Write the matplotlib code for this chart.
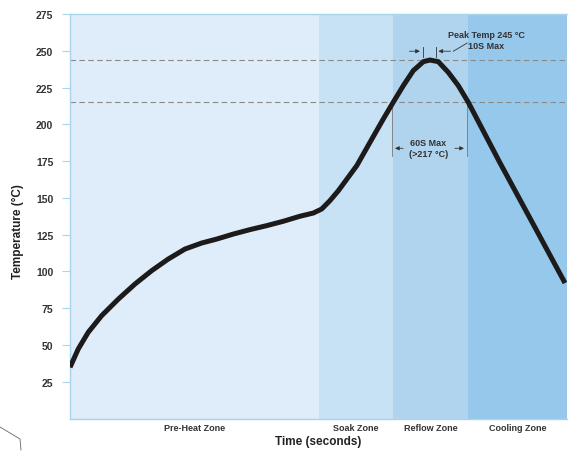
import matplotlib.pyplot as plt
from matplotlib.lines import Line2D

plt.rcParams['font.family'] = ['Liberation Sans', 'DejaVu Sans']

# reflow profile (time in s, temperature in degC)
time_s = [0.0, 5.0, 11.0, 19.1, 29.2, 39.2, 49.3, 59.3, 69.4, 79.5, 88.6, 98.6,
          108.6, 118.7, 128.8, 138.8, 146.9, 151.9, 156.9, 162.0, 173.1, 181.1,
          189.1, 195.1, 201.2, 207.2, 213.3, 217.3, 222.3, 228.3, 234.4, 240.4,
          259.4, 281.3, 298.8]
temp_c = [34.8, 47.3, 58.6, 69.9, 81.2, 91.4, 100.5, 108.4, 115.2, 119.3, 122.0, 125.4,
          128.4, 131.1, 134.1, 137.5, 139.7, 142.4, 148.1, 154.9, 171.9, 187.8,
          203.6, 215.0, 226.3, 236.5, 242.6, 243.7, 242.6, 235.4, 226.3, 215.0,
          174.1, 128.6, 92.1]

zone_names = ['Pre-Heat Zone', 'Soak Zone', 'Reflow Zone', 'Cooling Zone']
zone_edges = [0, 150, 195, 240, 300]
zone_colors = ['#deedf9', '#c8e2f5', '#b0d4ee', '#96c8ec']

peak_line = 243.5
liquidus_line = 215.5
yticks = [25, 50, 75, 100, 125, 150, 175, 200, 225, 250, 275]

fig = plt.figure(figsize=(5.74, 4.52), dpi=100)
ax = fig.add_axes([70 / 574, 1 - 419.5 / 452, 497 / 574, 404.5 / 452])

for i in range(len(zone_names)):
    ax.axvspan(zone_edges[i], zone_edges[i + 1], color=zone_colors[i], lw=0, zorder=0)
    ax.text((zone_edges[i] + zone_edges[i + 1]) / 2, -5.8, zone_names[i], ha='center', va='center',
            fontsize=6.5, fontweight='bold', color='#333333')

ax.axhline(peak_line, color='#8a8a8a', lw=0.8, ls=(0, (5, 3)), zorder=1)
ax.axhline(liquidus_line, color='#8a8a8a', lw=0.8, ls=(0, (5, 3)), zorder=1)

ax.plot(time_s, temp_c, color='#1c1a1a', lw=3.6, solid_capstyle='butt',
        solid_joinstyle='round', zorder=3)

ax.set_xlim(0, 300)
ax.set_ylim(0, 275)
ax.set_xticks([])
ax.set_yticks(yticks)
ax.tick_params(axis='y', length=6, width=0.8, color='#a8d4f0', labelsize=7.5, labelcolor='#333333', pad=6)
for lab in ax.get_yticklabels():
    lab.set_fontweight('bold')
for s in ['left', 'top', 'bottom']:
    ax.spines[s].set_color('#a8d4f0')
    ax.spines[s].set_linewidth(1.0)
ax.spines['right'].set_visible(False)

fig.text(318 / 574, 1 - 442 / 452, 'Time (seconds)', ha='center', va='center', fontsize=8.5, fontweight='bold', color='#222222')
fig.text(18 / 574, 1 - 232 / 452, 'Temperature (°C)', ha='center', va='center', rotation=90,
         fontsize=8.5, fontweight='bold', color='#222222')

# peak annotation (10 s window)
ac = '#333333'
ya = 249.7
ax.plot([212.9, 212.9], [246.1, 252.9], color=ac, lw=0.6)
ax.plot([220.7, 220.7], [246.1, 252.9], color=ac, lw=0.6)
ax.annotate('', xy=(212.9, ya), xytext=(203.2, ya),
            arrowprops=dict(arrowstyle='-|>', color=ac, lw=0.6, mutation_scale=6))
ax.annotate('', xy=(220.7, ya), xytext=(231.4, ya),
            arrowprops=dict(arrowstyle='-|>', color=ac, lw=0.6, mutation_scale=6))
ax.plot([231.4, 239.8], [ya, 255.3], color=ac, lw=0.6)
ax.text(251.1, 261.4, 'Peak Temp 245 °C', ha='center', va='center', fontsize=6.5, fontweight='bold', color=ac)
ax.text(251.1, 253.9, '10S Max', ha='center', va='center', fontsize=6.5, fontweight='bold', color=ac)

# time above liquidus annotation
ax.plot([194.5, 194.5], [178.7, 215.0], color='#777777', lw=0.6)
ax.plot([239.5, 239.5], [178.7, 215.0], color='#777777', lw=0.6)
yb = 183.7
ax.annotate('', xy=(194.5, yb), xytext=(202.8, yb),
            arrowprops=dict(arrowstyle='-|>', color=ac, lw=0.6, mutation_scale=6))
ax.annotate('', xy=(239.5, yb), xytext=(230.6, yb),
            arrowprops=dict(arrowstyle='-|>', color=ac, lw=0.6, mutation_scale=6))
ax.text(216.3, 187.8, '60S Max', ha='center', va='center', fontsize=6.5, fontweight='bold', color=ac)
ax.text(216.3, 180.5, '(>217 °C)', ha='center', va='center', fontsize=6.5, fontweight='bold', color=ac)

# stray scan mark in the lower-left corner
fig.add_artist(Line2D([0, 20 / 574, 21 / 574], [1 - 428 / 452, 1 - 440 / 452, 1 - 451 / 452],
                      color='#666666', lw=0.6))

fig.savefig('out.png', dpi=100)
